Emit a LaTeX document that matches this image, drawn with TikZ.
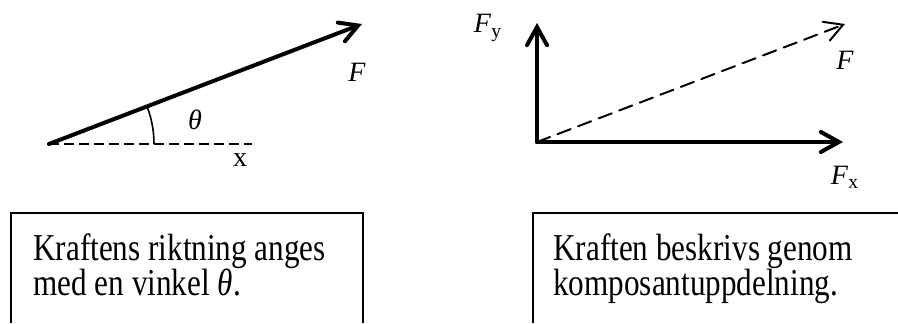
\documentclass[tikz,border=0pt]{standalone}
\usepackage{fontspec}
\setmainfont{Liberation Serif}
\newfontfamily\boxfont[FakeStretch=0.82]{Liberation Serif}
\usetikzlibrary{arrows.meta, positioning}

\begin{document}
\begin{tikzpicture}[x=0.5pt, y=0.5pt,
  vec/.style={line width=2pt, line cap=round, -{Straight Barb[length=9pt, width=10pt, line cap=round]}},
  lbl/.style={font=\fontsize{14}{16}\selectfont, inner sep=0pt},
  boxtext/.style={font=\boxfont\fontsize{19}{17.5}\selectfont, align=left, anchor=base west, inner sep=0pt}]
  \useasboundingbox (0,0) rectangle (898,323);

  % Angle
  \coordinate (A) at (49,179);
  \coordinate (Atip) at (362,299);
  \coordinate (Aend) at (252,179);
  \draw[line width=0.6pt, dash pattern=on 5pt off 2.5pt] (A) -- (Aend);
  \draw[vec] (A) -- (Atip);
  \draw[line width=0.8pt] (A) ++(105,0) arc[start angle=0, end angle=21, radius=105];
  \node[lbl] (thetalbl) at (195,203) {\textit{θ}};
  \node[lbl] (xlbl) at (240,163) {x};
  \node[lbl] (Flbl) at (357,251) {\textit{F}};

  % Components
  \coordinate (O) at (537,181);
  \coordinate (Fytip) at (537,300);
  \coordinate (Fxtip) at (843,181);
  \coordinate (Ftip) at (845,299);
  \draw[vec] (O) -- (Fytip);
  \draw[vec] (O) -- (Fxtip);
  \draw[vec, line width=1pt, dash pattern=on 7pt off 4pt] (O) -- (Ftip);
  \node[lbl] (Fylbl) at (488,295) {\textit{F}\textsubscript{y}};
  \node[lbl] (Fdlbl) at (845,263) {\textit{F}};
  \node[lbl] (Fxlbl) at (845,146) {\textit{F}\textsubscript{x}};

  % Boxes
  \draw[line width=1pt] (11,0) -- (11,110) -- (363,110) -- (363,0);
  \draw[line width=1pt] (533,0) -- (533,110) -- (898,110);
  \node[boxtext] (lefttext) at (33,28) {Kraftens riktning anges\\med en vinkel \textit{θ}.};
  \node[boxtext] (righttext) at (553,28) {Kraften beskrivs genom\\komposantuppdelning.};
\end{tikzpicture}
\end{document}
